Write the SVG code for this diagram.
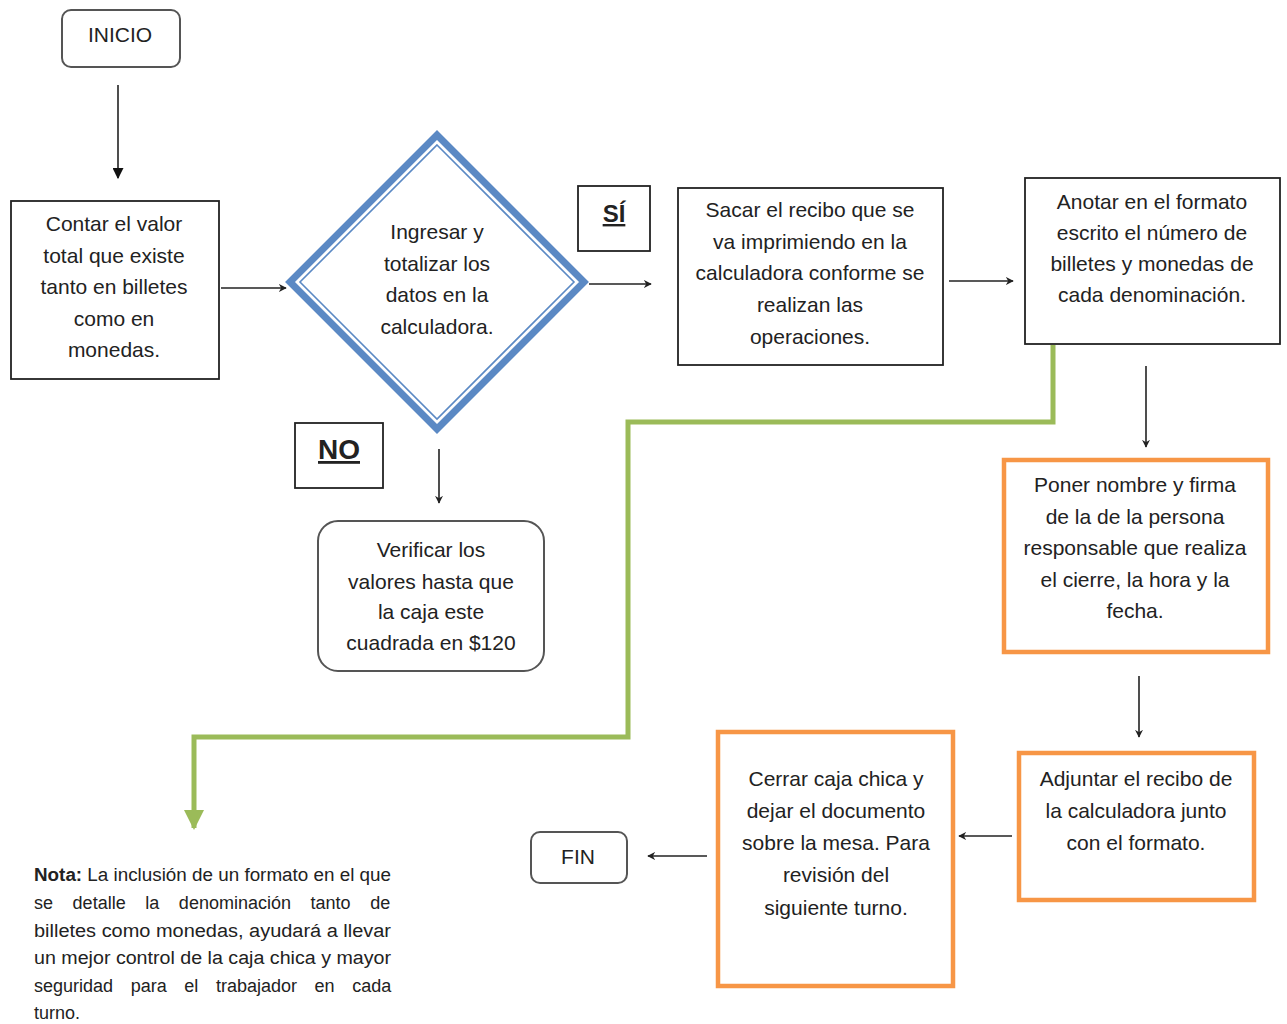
<svg xmlns="http://www.w3.org/2000/svg" width="1287" height="1024" viewBox="0 0 1287 1024">
<style>
.t{font-family:"Liberation Sans",Arial,sans-serif;font-size:21px;fill:#222;text-anchor:middle}
.box{fill:#fff;stroke:#222;stroke-width:1.8}
.rbox{fill:#fff;stroke:#555;stroke-width:2}
.obox{fill:#fff;stroke:#F79646;stroke-width:4.5}
.conn{stroke:#222;stroke-width:1.6;fill:none}
.note{font-family:"Liberation Sans",Arial,sans-serif;font-size:18px;fill:#222}
</style>
<defs>
<marker id="ah" viewBox="0 0 10 10" refX="9" refY="5" markerWidth="8" markerHeight="8" markerUnits="userSpaceOnUse" orient="auto">
<path d="M0,0 L10,5 L0,10 L3,5 Z" fill="#222"/>
</marker>
<marker id="ahBig" viewBox="0 0 10 10" refX="9" refY="5" markerWidth="11" markerHeight="11" markerUnits="userSpaceOnUse" orient="auto">
<path d="M0,0 L10,5 L0,10 Z" fill="#111"/>
</marker>
<marker id="ahG" viewBox="0 0 10 10" refX="9" refY="5" markerWidth="20" markerHeight="20" markerUnits="userSpaceOnUse" orient="auto">
<path d="M0,0 L10,5 L0,10 Z" fill="#9BBB59"/>
</marker>
</defs>

<g id="connectors">
<line class="conn" x1="118" y1="85" x2="118" y2="178" marker-end="url(#ahBig)"/>
<line class="conn" x1="221" y1="288" x2="286" y2="288" marker-end="url(#ah)"/>
<line class="conn" x1="589" y1="284" x2="651" y2="284" marker-end="url(#ah)"/>
<line class="conn" x1="949" y1="281" x2="1013" y2="281" marker-end="url(#ah)"/>
<line class="conn" x1="1146" y1="366" x2="1146" y2="447" marker-end="url(#ah)"/>
<line class="conn" x1="1139" y1="676" x2="1139" y2="737" marker-end="url(#ah)"/>
<line class="conn" x1="1012" y1="836" x2="959" y2="836" marker-end="url(#ah)"/>
<line class="conn" x1="707" y1="856" x2="648" y2="856" marker-end="url(#ah)"/>
<line class="conn" x1="439" y1="449" x2="439" y2="503" marker-end="url(#ah)"/>
<polyline points="1053,345 1053,422 628,422 628,737 194,737 194,828" fill="none" stroke="#9BBB59" stroke-width="5" marker-end="url(#ahG)"/>
</g>

<g id="inicio">
<rect class="rbox" x="62" y="10" width="118" height="57" rx="9"/>
<text class="t" x="120" y="42">INICIO</text>
</g>

<g id="contar">
<rect class="box" x="11" y="201" width="208" height="178"/>
<text class="t" x="114" y="231">Contar el valor</text>
<text class="t" x="114" y="263">total que existe</text>
<text class="t" x="114" y="294">tanto en billetes</text>
<text class="t" x="114" y="326">como en</text>
<text class="t" x="114" y="357">monedas.</text>
</g>

<g id="decision">
<polygon points="437,135 584,282 437,429 290,282" fill="#fff" stroke="#5B89C4" stroke-width="7"/>
<polygon points="437,145 574,282 437,419 300,282" fill="none" stroke="#5B89C4" stroke-width="1.6"/>
<text class="t" x="437" y="239">Ingresar y</text>
<text class="t" x="437" y="271">totalizar los</text>
<text class="t" x="437" y="302">datos en la</text>
<text class="t" x="437" y="334">calculadora.</text>
</g>

<g id="si">
<rect class="box" x="578" y="186" width="72" height="65"/>
<text class="t" x="614" y="222" style="font-weight:bold;font-size:24px;text-decoration:underline">SÍ</text>
</g>

<g id="no">
<rect class="box" x="295" y="423" width="88" height="65"/>
<text class="t" x="339" y="459" style="font-weight:bold;font-size:28px;text-decoration:underline">NO</text>
</g>

<g id="sacar">
<rect class="box" x="678" y="188" width="265" height="177"/>
<text class="t" x="810" y="217">Sacar el recibo que se</text>
<text class="t" x="810" y="249">va imprimiendo en la</text>
<text class="t" x="810" y="280">calculadora conforme se</text>
<text class="t" x="810" y="312">realizan las</text>
<text class="t" x="810" y="344">operaciones.</text>
</g>

<g id="anotar">
<rect class="box" x="1025" y="178" width="255" height="166"/>
<text class="t" x="1152" y="209">Anotar en el formato</text>
<text class="t" x="1152" y="240">escrito el número de</text>
<text class="t" x="1152" y="271">billetes y monedas de</text>
<text class="t" x="1152" y="302">cada denominación.</text>
</g>

<g id="verificar">
<rect class="rbox" x="318" y="521" width="226" height="150" rx="20"/>
<text class="t" x="431" y="557">Verificar los</text>
<text class="t" x="431" y="589">valores hasta que</text>
<text class="t" x="431" y="619">la caja este</text>
<text class="t" x="431" y="650">cuadrada en $120</text>
</g>

<g id="poner">
<rect class="obox" x="1004" y="460" width="264" height="192"/>
<text class="t" x="1135" y="492">Poner nombre y firma</text>
<text class="t" x="1135" y="524">de la de la persona</text>
<text class="t" x="1135" y="555">responsable que realiza</text>
<text class="t" x="1135" y="587">el cierre, la hora y la</text>
<text class="t" x="1135" y="618">fecha.</text>
</g>

<g id="adjuntar">
<rect class="obox" x="1019" y="753" width="235" height="147"/>
<text class="t" x="1136" y="786">Adjuntar el recibo de</text>
<text class="t" x="1136" y="818">la calculadora junto</text>
<text class="t" x="1136" y="850">con el formato.</text>
</g>

<g id="cerrar">
<rect class="obox" x="718" y="732" width="235" height="254"/>
<text class="t" x="836" y="786">Cerrar caja chica y</text>
<text class="t" x="836" y="818">dejar el documento</text>
<text class="t" x="836" y="850">sobre la mesa. Para</text>
<text class="t" x="836" y="882">revisión del</text>
<text class="t" x="836" y="915">siguiente turno.</text>
</g>

<g id="fin">
<rect class="rbox" x="531" y="832" width="96" height="51" rx="9"/>
<text class="t" x="578" y="864">FIN</text>
</g>

<g id="nota">
<text class="note" x="34" y="881" textLength="357" lengthAdjust="spacingAndGlyphs"><tspan font-weight="bold">Nota:</tspan> La inclusión de un formato en el que</text>
<text class="note" x="34" y="909" word-spacing="14.6">se detalle la denominación tanto de</text>
<text class="note" x="34" y="937" textLength="357" lengthAdjust="spacingAndGlyphs">billetes como monedas, ayudará a llevar</text>
<text class="note" x="34" y="964" textLength="357" lengthAdjust="spacingAndGlyphs">un mejor control de la caja chica y mayor</text>
<text class="note" x="34" y="992" word-spacing="12.6">seguridad para el trabajador en cada</text>
<text class="note" x="34" y="1019">turno.</text>
</g>
</svg>
